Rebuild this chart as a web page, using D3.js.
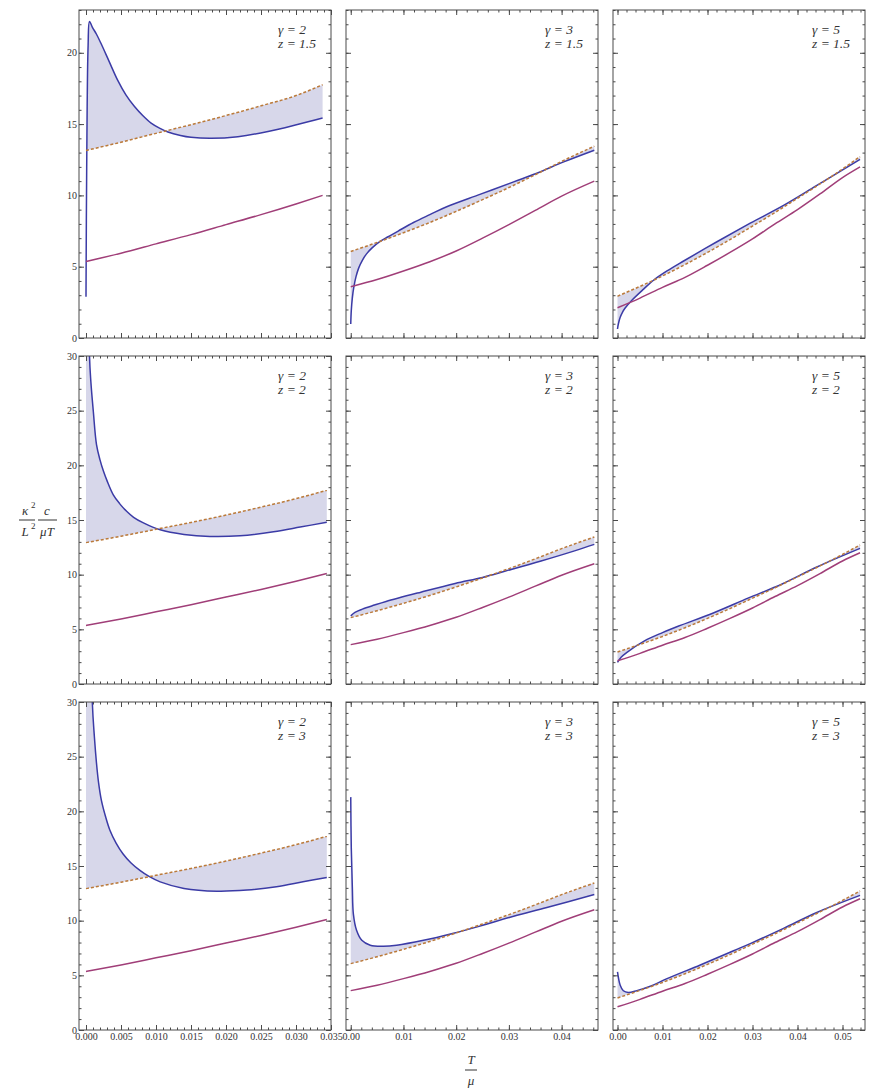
<!DOCTYPE html>
<html>
<head>
<meta charset="utf-8">
<script src="https://cdn.jsdelivr.net/npm/d3@7"></script>
<style>
  body { margin: 0; background: #fff; }
</style>
</head>
<body>
<script>
// sample points (T/mu) for the purple and dashed curves, one set per gamma
var tG2 = [0, 0.005, 0.01, 0.015, 0.02, 0.025, 0.03, 0.0344];
var tG2z15 = [0, 0.005, 0.01, 0.015, 0.02, 0.025, 0.03, 0.0338];
var tG3 = [0, 0.005, 0.01, 0.015, 0.02, 0.025, 0.03, 0.035, 0.04, 0.0462];
var tG5 = [0, 0.005, 0.01, 0.015, 0.02, 0.025, 0.03, 0.035, 0.04, 0.045, 0.05, 0.0539];

var purpleG2 = [5.36, 5.95, 6.6, 7.25, 7.95, 8.65, 9.4, 10.1];
var purpleG2z15 = [5.36, 5.95, 6.6, 7.25, 7.95, 8.65, 9.4, 10.0];
var purpleG3 = [3.6, 4.1, 4.7, 5.35, 6.1, 7.0, 7.95, 8.95, 9.95, 11.0];
var purpleG5 = [2.12, 2.8, 3.55, 4.25, 5.1, 6.0, 6.95, 8.0, 9.0, 10.1, 11.25, 12.0];

var dashedG2 = [12.93, 13.52, 14.15, 14.78, 15.45, 16.18, 16.95, 17.72];
var dashedG2z15 = [13.15, 13.73, 14.35, 14.96, 15.6, 16.28, 17.0, 17.76];
var dashedG3 = [6.07, 6.7, 7.38, 8.1, 8.88, 9.7, 10.55, 11.45, 12.38, 13.45];
var dashedG5 = [2.93, 3.62, 4.35, 5.15, 6.0, 6.9, 7.85, 8.8, 9.8, 10.8, 11.85, 12.72];

// blue curves, [T/mu, value]
var blueG2z15 = [[0, 2.9], [0.0001, 12], [0.0003, 20.5], [0.0005, 22.2], [0.0009, 21.8], [0.0015, 21.3],
  [0.0021, 20.7], [0.0033, 19.4], [0.0045, 18.1], [0.0057, 17.05], [0.0069, 16.25], [0.0081, 15.6],
  [0.0093, 15.07], [0.0105, 14.72], [0.0117, 14.45], [0.0135, 14.2], [0.015, 14.07], [0.0179, 14.0],
  [0.0217, 14.12], [0.026, 14.48], [0.0302, 14.97], [0.0338, 15.43]];
var blueG3z15 = [[0, 0.98], [0.0001, 1.9], [0.0003, 2.8], [0.0006, 3.6], [0.001, 4.3], [0.0015, 4.9],
  [0.0022, 5.45], [0.003, 5.9], [0.004, 6.3], [0.0055, 6.75], [0.0071, 7.1], [0.009, 7.5],
  [0.0119, 8.1], [0.015, 8.65], [0.0182, 9.2], [0.0245, 10.07], [0.0309, 10.95], [0.0353, 11.55],
  [0.0404, 12.35], [0.0462, 13.17]];
var blueG5z15 = [[0, 0.63], [0.0002, 1.0], [0.0006, 1.45], [0.0011, 1.8], [0.0017, 2.1], [0.0032, 2.65],
  [0.0058, 3.43], [0.008, 4.05], [0.011, 4.7], [0.0147, 5.4], [0.0221, 6.75], [0.0295, 8.05],
  [0.0369, 9.3], [0.0443, 10.7], [0.0539, 12.52]];
var blueG2z2 = [[0, 60], [0.0005, 30], [0.0007, 27.6], [0.00105, 24.9], [0.0015, 21.9], [0.002, 20.5],
  [0.0025, 19.45], [0.003, 18.6], [0.0039, 17.3], [0.0048, 16.5], [0.0058, 15.8], [0.0068, 15.25],
  [0.0082, 14.74], [0.0106, 14.1], [0.014, 13.68], [0.0177, 13.5], [0.022, 13.56], [0.0268, 13.92],
  [0.0306, 14.35], [0.0344, 14.8]];
var blueG3z2 = [[0, 6.23], [0.0008, 6.55], [0.0022, 6.85], [0.0045, 7.22], [0.0067, 7.55], [0.0133, 8.4],
  [0.0198, 9.2], [0.025, 9.75], [0.0295, 10.35], [0.0361, 11.25], [0.0426, 12.2], [0.0462, 12.77]];
var blueG5z2 = [[0, 1.98], [0.0008, 2.45], [0.0021, 2.9], [0.006, 3.95], [0.01, 4.7], [0.0136, 5.3],
  [0.0213, 6.5], [0.029, 7.85], [0.0366, 9.15], [0.0443, 10.7], [0.0539, 12.4]];
var blueG2z3 = [[0, 60], [0.0009, 30], [0.0012, 26.8], [0.0015, 24.4], [0.0018, 22.6], [0.0022, 21.0],
  [0.0028, 19.5], [0.0034, 18.3], [0.0043, 17.1], [0.0053, 16.1], [0.0064, 15.3], [0.0077, 14.6],
  [0.009, 14.05], [0.0106, 13.55], [0.014, 12.95], [0.0187, 12.7], [0.023, 12.8], [0.0272, 13.1],
  [0.031, 13.55], [0.0344, 13.95]];
var blueG3z3 = [[0, 21.3], [0.0001, 16.7], [0.0003, 13.1], [0.0005, 10.6], [0.0011, 9.12], [0.0021, 8.2],
  [0.0037, 7.75], [0.0062, 7.66], [0.0087, 7.75], [0.0138, 8.2], [0.0195, 8.85], [0.0245, 9.5],
  [0.0309, 10.4], [0.0372, 11.2], [0.0462, 12.4]];
var blueG5z3 = [[0, 5.32], [0.0006, 4.1], [0.0013, 3.59], [0.0024, 3.43], [0.0043, 3.6], [0.0073, 4.0],
  [0.011, 4.7], [0.0184, 5.95], [0.0258, 7.25], [0.0295, 7.9], [0.0369, 9.3], [0.0443, 10.75],
  [0.0539, 12.31]];

// tick labels
var xTicksG2 = [0, 0.005, 0.01, 0.015, 0.02, 0.025, 0.03, 0.035];
var xTicksG3 = [0, 0.01, 0.02, 0.03, 0.04];
var xTicksG5 = [0, 0.01, 0.02, 0.03, 0.04, 0.05];
var yTicksTop = [0, 5, 10, 15, 20];
var yTicks = [0, 5, 10, 15, 20, 25, 30];

var panels = [
  {gamma: 2, z: "1.5", t: tG2z15, purple: purpleG2z15, dashed: dashedG2z15, blue: blueG2z15, yMax: 23},
  {gamma: 3, z: "1.5", t: tG3, purple: purpleG3, dashed: dashedG3, blue: blueG3z15, yMax: 23},
  {gamma: 5, z: "1.5", t: tG5, purple: purpleG5, dashed: dashedG5, blue: blueG5z15, yMax: 23},
  {gamma: 2, z: "2", t: tG2, purple: purpleG2, dashed: dashedG2, blue: blueG2z2, yMax: 30},
  {gamma: 3, z: "2", t: tG3, purple: purpleG3, dashed: dashedG3, blue: blueG3z2, yMax: 30},
  {gamma: 5, z: "2", t: tG5, purple: purpleG5, dashed: dashedG5, blue: blueG5z2, yMax: 30},
  {gamma: 2, z: "3", t: tG2, purple: purpleG2, dashed: dashedG2, blue: blueG2z3, yMax: 30},
  {gamma: 3, z: "3", t: tG3, purple: purpleG3, dashed: dashedG3, blue: blueG3z3, yMax: 30},
  {gamma: 5, z: "3", t: tG5, purple: purpleG5, dashed: dashedG5, blue: blueG5z3, yMax: 30}
];

var columns = [
  {domain: [-0.001, 0.035], major: xTicksG2, minorStep: 0.001, fmt: d3.format(".3f")},
  {domain: [-0.0009, 0.0469], major: xTicksG3, minorStep: 0.002, fmt: d3.format(".2f")},
  {domain: [-0.001, 0.055], major: xTicksG5, minorStep: 0.002, fmt: d3.format(".2f")}
];

var colLeft = [79, 346, 613];
var rowTop = [10, 356, 702];
var pw = 252, ph = 328;

var serif = "'Liberation Serif', 'Times New Roman', 'DejaVu Serif', serif";
var frameColor = "#4a4a4a";
var textColor = "#333";
var blueColor = "#3b3ba6";
var purpleColor = "#a03e78";
var dashColor = "#bb7a3a";
var fillColor = "#d7d7ea";

var svg = d3.select("body")
            .append("svg")
            .attr("width", 873)
            .attr("height", 1092)
            .attr("font-family", serif);

var defs = svg.append("defs");

function styleAxis(g) {
  g.attr("font-family", serif);
  g.select(".domain").remove();
  g.selectAll("line").attr("stroke", frameColor);
  g.selectAll("text").attr("font-size", "10px").attr("fill", textColor).attr("font-family", serif);
}

panels.forEach(function(p, i) {
  var r = Math.floor(i / 3), c = i % 3;
  var col = columns[c];
  var g = svg.append("g").attr("transform", "translate(" + colLeft[c] + "," + rowTop[r] + ")");

  var x = d3.scaleLinear().domain(col.domain).range([0, pw]);
  var y = d3.scaleLinear().domain([0, p.yMax]).range([ph, 0]);

  defs.append("clipPath").attr("id", "clip" + i)
      .append("rect").attr("width", pw).attr("height", ph);

  var plot = g.append("g").attr("clip-path", "url(#clip" + i + ")");

  var smooth = d3.line()
                 .x(function(d) { return x(d[0]); })
                 .y(function(d) { return y(d[1]); })
                 .curve(d3.curveCatmullRom.alpha(0.5));
  var line = d3.line()
               .x(function(d) { return x(d[0]); })
               .y(function(d) { return y(d[1]); })
               .curve(d3.curveMonotoneX);

  var purplePts = p.t.map(function(t, j) { return [t, p.purple[j]]; });
  var dashedPts = p.t.map(function(t, j) { return [t, p.dashed[j]]; });

  // shaded band between blue curve and dashed line
  var band = smooth(p.blue) + line(dashedPts.slice().reverse()).replace(/^M/, "L") + "Z";
  plot.append("path").attr("d", band).attr("fill", fillColor).attr("stroke", "none");

  plot.append("path").attr("d", smooth(p.blue))
      .attr("fill", "none").attr("stroke", blueColor).attr("stroke-width", 1.5);
  plot.append("path").attr("d", line(purplePts))
      .attr("fill", "none").attr("stroke", purpleColor).attr("stroke-width", 1.5);
  plot.append("path").attr("d", line(dashedPts))
      .attr("fill", "none").attr("stroke", dashColor).attr("stroke-width", 1.5)
      .attr("stroke-dasharray", "3,2");

  // frame
  g.append("rect").attr("width", pw).attr("height", ph)
   .attr("fill", "none").attr("stroke", frameColor).attr("stroke-width", 1);

  var xMinor = d3.range(0, col.domain[1] + 1e-9, col.minorStep);
  var yMajor = p.yMax > 25 ? yTicks : yTicksTop;
  var yMinor = d3.range(0, p.yMax + 1e-9, 1);

  // bottom
  g.append("g").attr("transform", "translate(0," + ph + ")")
   .call(d3.axisBottom(x).tickValues(xMinor).tickSize(-2.5).tickFormat("")).call(styleAxis);
  g.append("g").attr("transform", "translate(0," + ph + ")")
   .call(d3.axisBottom(x).tickValues(col.major).tickSize(-5).tickPadding(3)
         .tickFormat(r == 2 ? col.fmt : "")).call(styleAxis);
  // top
  g.append("g")
   .call(d3.axisTop(x).tickValues(xMinor).tickSize(-2.5).tickFormat("")).call(styleAxis);
  g.append("g")
   .call(d3.axisTop(x).tickValues(col.major).tickSize(-5).tickFormat("")).call(styleAxis);
  // left
  g.append("g")
   .call(d3.axisLeft(y).tickValues(yMinor).tickSize(-2.5).tickFormat("")).call(styleAxis);
  g.append("g")
   .call(d3.axisLeft(y).tickValues(yMajor).tickSize(-5).tickPadding(2)
         .tickFormat(c == 0 ? d3.format("d") : "")).call(styleAxis);
  // right
  g.append("g").attr("transform", "translate(" + pw + ",0)")
   .call(d3.axisRight(y).tickValues(yMinor).tickSize(-2.5).tickFormat("")).call(styleAxis);
  g.append("g").attr("transform", "translate(" + pw + ",0)")
   .call(d3.axisRight(y).tickValues(yMajor).tickSize(-5).tickFormat("")).call(styleAxis);

  // legend
  var leg = g.append("g").attr("transform", "translate(" + (pw - 53) + ",0)")
             .attr("font-style", "italic").attr("font-size", "13.5px").attr("fill", textColor);
  leg.append("text").attr("y", 24).text("\u03b3 = " + p.gamma);
  leg.append("text").attr("y", 38).text("z = " + p.z);
});

// y axis label
var yl = svg.append("g").attr("font-style", "italic").attr("fill", textColor);
yl.append("text").attr("x", 25).attr("y", 515).attr("text-anchor", "middle").attr("font-size", "13px").text("\u03ba");
yl.append("text").attr("x", 31).attr("y", 508).attr("font-size", "9px").attr("font-style", "normal").text("2");
yl.append("text").attr("x", 25).attr("y", 536).attr("text-anchor", "middle").attr("font-size", "13px").text("L");
yl.append("text").attr("x", 31).attr("y", 529).attr("font-size", "9px").attr("font-style", "normal").text("2");
yl.append("line").attr("x1", 19).attr("x2", 35).attr("y1", 520).attr("y2", 520).attr("stroke", textColor);
yl.append("text").attr("x", 47).attr("y", 515).attr("text-anchor", "middle").attr("font-size", "13px").text("c");
yl.append("text").attr("x", 47).attr("y", 536).attr("text-anchor", "middle").attr("font-size", "13px").text("\u03bcT");
yl.append("line").attr("x1", 38).attr("x2", 57).attr("y1", 520).attr("y2", 520).attr("stroke", textColor);

// x axis label
var xl = svg.append("g").attr("font-style", "italic").attr("fill", textColor).attr("font-size", "13px");
xl.append("text").attr("x", 471).attr("y", 1064).attr("text-anchor", "middle").text("T");
xl.append("line").attr("x1", 465).attr("x2", 477).attr("y1", 1070).attr("y2", 1070).attr("stroke", textColor);
xl.append("text").attr("x", 471).attr("y", 1085).attr("text-anchor", "middle").text("\u03bc");
</script>
</body>
</html>
